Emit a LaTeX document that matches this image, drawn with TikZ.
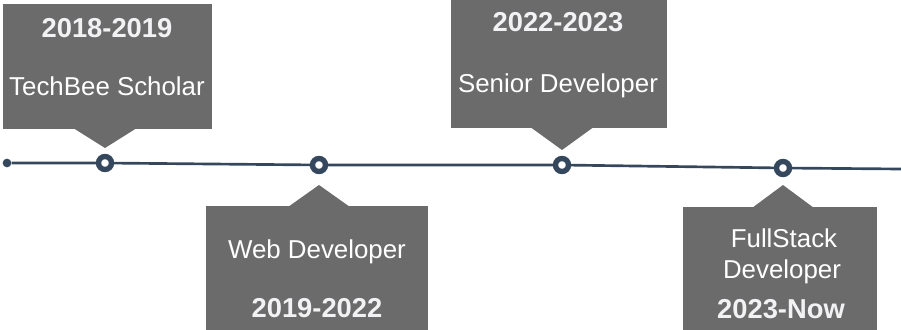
\documentclass[tikz,border=0pt]{standalone}
\usepackage{fontspec}
\setmainfont{Liberation Sans}
\usetikzlibrary{calc}
\definecolor{boxgray}{RGB}{107,107,107}
\definecolor{linecol}{RGB}{52,71,92}
\definecolor{yeartext}{RGB}{242,242,245}

\begin{document}
\begin{tikzpicture}[x=0.75pt,y=-0.75pt,
    card/.style={fill=boxgray,inner sep=0,anchor=north west},
    title/.style={text=white,font=\titlefontsize,anchor=base,inner sep=0},
    year/.style={text=yeartext,font=\yearfontsize\bfseries,anchor=base,inner sep=0},
    stop/.style={circle,draw=linecol,line width=4pt,fill=white,minimum size=9.75pt,inner sep=0},
    tip/.style={fill=boxgray}]
    \pgfmathsetmacro{\px}{0.75}  % one pixel of the reference, in pt
    \pgfmathsetmacro{\tiphalf}{31}
    \providecommand{\titlefontsize}{\fontsize{19.4pt}{23pt}\selectfont}
    \providecommand{\yearfontsize}{\fontsize{20.5pt}{24pt}\selectfont}
    \useasboundingbox (0,0) rectangle (901,329);
    \clip (0,0) rectangle (901,329);
    % cards
    \node[card,minimum width=209*\px pt,minimum height=125*\px pt] (b1) at (3,4) {};
    \node[card,minimum width=222*\px pt,minimum height=130*\px pt] (b2) at (206,206) {};
    \node[card,minimum width=216*\px pt,minimum height=133*\px pt] (b3) at (451,-5) {};
    \node[card,minimum width=194*\px pt,minimum height=130*\px pt] (b4) at (683,207) {};
    % timeline
    \node[circle,fill=linecol,minimum size=6.5pt,inner sep=0] (start) at (7,163) {};
    \node[stop] (c1) at (105,163) {};
    \node[stop] (c2) at (319,165) {};
    \node[stop] (c3) at (562,165) {};
    \node[stop] (c4) at (783,168) {};
    \coordinate (end) at (901,169);
    \draw[linecol,line width=2pt] (start) -- (c1) -- (c2) -- (c3) -- (c4) -- (end);
    % pointers
    \fill[tip] ($(c1 |- b1.south)+(-\tiphalf,-1)$) -- ($(c1)+(0,-15)$) -- ($(c1 |- b1.south)+(\tiphalf,-1)$) -- cycle;
    \fill[tip] ($(c2 |- b2.north)+(-\tiphalf,1)$) -- ($(c2)+(0,20)$) -- ($(c2 |- b2.north)+(\tiphalf,1)$) -- cycle;
    \fill[tip] ($(c3 |- b3.south)+(-\tiphalf,-1)$) -- ($(c3)+(0,-15)$) -- ($(c3 |- b3.south)+(\tiphalf,-1)$) -- cycle;
    \fill[tip] ($(c4 |- b4.north)+(-\tiphalf,1)$) -- ($(c4)+(0,17)$) -- ($(c4 |- b4.north)+(\tiphalf,1)$) -- cycle;
    % texts
    \node[year] (y1) at (107,37) {2018-2019};
    \node[title] (t1) at (107,95) {TechBee Scholar};
    \node[title] (t2) at (317,258) {Web Developer};
    \node[year] (y2) at (317,317) {2019-2022};
    \node[year] (y3) at (558,31) {2022-2023};
    \node[title] (t3) at (558,92) {Senior Developer};
    \node[title] (t4a) at (784,247) {FullStack};
    \node[title] (t4b) at (782,278) {Developer};
    \node[year] (y4) at (781,318) {2023-Now};
\end{tikzpicture}
\end{document}
